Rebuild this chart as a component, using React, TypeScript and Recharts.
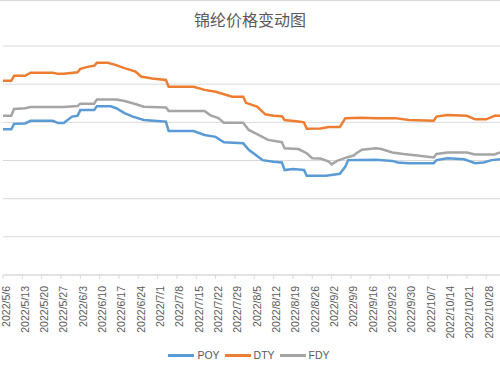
import { LineChart, Line, XAxis, YAxis, CartesianGrid, Legend } from "recharts";

// day 0 = 2022/5/6
const tickDays = [0, 7, 14, 21, 28, 35, 42, 49, 56, 63, 70, 77, 84, 91, 98, 105, 112, 119, 126, 133, 140, 147, 154, 161, 168, 175];
const tickLabels = [
  "2022/5/6", "2022/5/13", "2022/5/20", "2022/5/27", "2022/6/3", "2022/6/10", "2022/6/17",
  "2022/6/24", "2022/7/1", "2022/7/8", "2022/7/15", "2022/7/22", "2022/7/29", "2022/8/5",
  "2022/8/12", "2022/8/19", "2022/8/26", "2022/9/2", "2022/9/9", "2022/9/16", "2022/9/23",
  "2022/9/30", "2022/10/7", "2022/10/14", "2022/10/21", "2022/10/28",
];

const poyDays = [0, 3, 4, 8, 10, 18, 20, 22, 25, 27, 28, 33, 34, 39, 41, 44, 47, 51, 57, 59, 60, 69, 73, 77, 80, 87, 89, 94, 98, 101, 102, 105, 109, 110, 117, 122, 124, 125, 135, 141, 143, 147, 156, 157, 161, 167, 171, 174, 177, 180];
const poyPrices = [16820, 16820, 16960, 16970, 17040, 17040, 16980, 16980, 17150, 17170, 17320, 17320, 17420, 17420, 17370, 17240, 17150, 17060, 17030, 17020, 16770, 16770, 16670, 16620, 16480, 16450, 16280, 16010, 15970, 15950, 15750, 15780, 15750, 15600, 15600, 15650, 15840, 16010, 16020, 15990, 15950, 15930, 15930, 16010, 16060, 16030, 15930, 15950, 16010, 16030];

const dtyDays = [0, 3, 4, 8, 10, 18, 20, 22, 27, 28, 31, 33, 34, 38, 41, 44, 48, 50, 54, 59, 60, 69, 73, 77, 83, 87, 88, 92, 95, 98, 101, 102, 107, 109, 110, 115, 118, 122, 124, 130, 135, 142, 147, 156, 157, 161, 168, 171, 175, 178, 180];
const dtyPrices = [18090, 18090, 18220, 18220, 18300, 18300, 18270, 18270, 18310, 18400, 18460, 18480, 18560, 18560, 18500, 18420, 18330, 18200, 18150, 18110, 17930, 17930, 17850, 17800, 17670, 17670, 17510, 17410, 17210, 17170, 17160, 17060, 17020, 17000, 16830, 16840, 16880, 16880, 17110, 17120, 17110, 17110, 17060, 17040, 17150, 17190, 17170, 17080, 17080, 17170, 17170];

const fdyDays = [0, 3, 4, 8, 10, 22, 27, 28, 33, 34, 41, 44, 47, 51, 59, 60, 73, 75, 78, 80, 87, 89, 92, 96, 101, 102, 107, 110, 112, 115, 118, 119, 121, 124, 127, 128, 130, 135, 137, 141, 145, 150, 156, 157, 161, 168, 171, 178, 180];
const fdyPrices = [17170, 17170, 17350, 17370, 17400, 17400, 17430, 17490, 17490, 17600, 17600, 17560, 17500, 17410, 17390, 17300, 17300, 17190, 17110, 16990, 16990, 16800, 16690, 16540, 16480, 16320, 16300, 16190, 16060, 16050, 15970, 15900, 15990, 16070, 16130, 16190, 16280, 16320, 16300, 16210, 16170, 16130, 16080, 16170, 16210, 16210, 16160, 16160, 16210];

const yTicks = [13000, 14000, 15000, 16000, 17000, 18000, 19000];

const series = [
  { name: "POY", color: "#5B9BD5", data: poyDays.map((d, i) => ({ day: d, price: poyPrices[i] })) },
  { name: "DTY", color: "#ED7D31", data: dtyDays.map((d, i) => ({ day: d, price: dtyPrices[i] })) },
  { name: "FDY", color: "#A5A5A5", data: fdyDays.map((d, i) => ({ day: d, price: fdyPrices[i] })) },
];

const FONT = "'Liberation Sans', Arial, sans-serif";

function DateTick({ x, y, payload }: any) {
  const idx = tickDays.indexOf(payload.value);
  return (
    <g transform={`translate(${x},${y})`}>
      <text
        transform="rotate(-90)"
        x={-5}
        y={0}
        dy={6.5}
        textAnchor="end"
        fill="#595959"
        fontSize={10.5}
        fontFamily={FONT}
      >
        {tickLabels[idx]}
      </text>
    </g>
  );
}

function LegendBox() {
  return (
    <div style={{ display: "flex", justifyContent: "center", fontFamily: FONT, fontSize: 10.5, color: "#595959" }}>
      {series.map((s) => (
        <div key={s.name} style={{ display: "flex", alignItems: "center", marginRight: 5 }}>
          <span style={{ display: "inline-block", width: 26, height: 3, background: s.color, marginRight: 3 }} />
          <span>{s.name}</span>
        </div>
      ))}
    </div>
  );
}

export default function App() {
  return (
    <div style={{ position: "absolute", left: 0, top: 0, width: 500, height: 375, background: "#fff", overflow: "hidden" }}>
      <div style={{ position: "absolute", left: 0, top: 0, width: 500, borderTop: "1px solid #d9d9d9" }} />
      <div
        style={{
          position: "absolute",
          top: 9,
          width: 500,
          textAlign: "center",
          fontFamily: "'Noto Sans CJK SC', sans-serif",
          fontSize: 16,
          color: "#595959",
          lineHeight: "20px",
        }}
      >
        锦纶价格变动图
      </div>
      <LineChart width={500} height={375} margin={{ top: 46, right: 0, bottom: 6, left: 3 }}>
        <CartesianGrid vertical={false} stroke="#d9d9d9" />
        <XAxis
          dataKey="day"
          type="number"
          domain={[0, 180]}
          ticks={tickDays}
          interval={0}
          height={74}
          tickSize={4}
          stroke="#d9d9d9"
          tick={<DateTick />}
          allowDuplicatedCategory={false}
        />
        <YAxis hide domain={[13000, 19000]} ticks={yTicks} />
        <Legend verticalAlign="bottom" height={20} content={() => <LegendBox />} />
        {series.map((s) => (
          <Line
            key={s.name}
            data={s.data}
            dataKey="price"
            name={s.name}
            stroke={s.color}
            strokeWidth={2.5}
            dot={false}
            type="linear"
            isAnimationActive={false}
          />
        ))}
      </LineChart>
    </div>
  );
}
